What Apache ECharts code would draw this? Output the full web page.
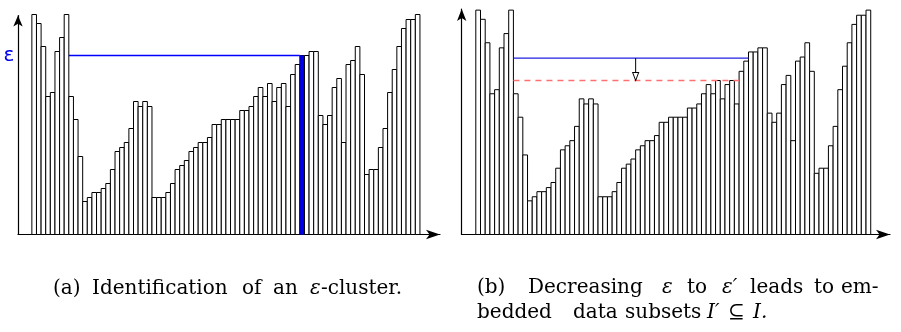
<!DOCTYPE html>
<html>
<head>
<meta charset="utf-8">
<script src="https://cdn.jsdelivr.net/npm/echarts@6/dist/echarts.min.js"></script>
<style>
  html, body { margin: 0; padding: 0; background: #fff; }
  #chart { width: 901px; height: 332px; }
</style>
</head>
<body>
<div id="chart"></div>
<script>
// Reachability values, one per ordered point (84 points)
const reach = [
  220, 211, 188, 138, 142, 183, 197, 220, 138, 115,
  78, 33, 37, 42, 42, 46, 51, 65, 83, 87,
  92, 106, 133, 128, 133, 128, 37, 37, 37, 42,
  51, 65, 69, 74, 83, 87, 92, 92, 97, 110,
  110, 115, 115, 115, 115, 124, 124, 128, 138, 147,
  138, 151, 133, 147, 151, 128, 160, 170, 179, 179,
  183, 183, 119, 110, 119, 147, 156, 92, 170, 174,
  188, 160, 60, 65, 65, 87, 106, 142, 165, 188,
  206, 215, 215, 220
];
// Point that defines the epsilon-cluster in panel (a)
const clusterPoint = 59;
// Threshold levels
const epsA = 179;      // panel (a): epsilon
const epsB = 173;      // panel (b): epsilon
const epsPrime = 151;  // panel (b): epsilon'
// Extent (in point positions) of the threshold lines
const epsSpan = [8.5, 58.5];
const epsPrimeSpan = [8.5, 56.5];
const arrowAt = 34.5;

const barData = reach.map((v, i) => [i + 1, v]);

function makeBars(highlight) {
  return function (params, api) {
    const i = api.value(0), v = api.value(1);
    const p0 = api.coord([i - 0.5, v]);
    const p1 = api.coord([i + 0.5, 0]);
    const hot = highlight && i === clusterPoint;
    return {
      type: 'rect',
      shape: { x: p0[0], y: p0[1], width: p1[0] - p0[0], height: p1[1] - p0[1] },
      style: { fill: hot ? '#0000ee' : '#ffffff', stroke: hot ? '#000080' : '#000000', lineWidth: 1 }
    };
  };
}

function axisX(grid, max, arrowSize) {
  return {
    type: 'value', gridIndex: grid, min: -2.5, max: max,
    axisLine: { show: true, onZero: false, symbol: ['none', 'arrow'], symbolSize: arrowSize,
      lineStyle: { color: '#000', width: 1.2 } },
    axisTick: { show: false }, axisLabel: { show: false }, splitLine: { show: false }
  };
}
function axisY(grid, max, arrowSize) {
  return {
    type: 'value', gridIndex: grid, min: 0, max: max,
    axisLine: { show: true, onZero: false, symbol: ['none', 'arrow'], symbolSize: arrowSize,
      lineStyle: { color: '#000', width: 1.2 } },
    axisTick: { show: false }, axisLabel: { show: false }, splitLine: { show: false }
  };
}

const serif = "'DejaVu Serif', 'Liberation Serif', serif";
function word(x, y, text, italic) {
  return {
    type: 'text', x: x, y: y,
    style: { text: text, fontFamily: serif, fontSize: 20, fill: '#000',
      fontStyle: italic ? 'italic' : 'normal', verticalAlign: 'middle', align: 'left' }
  };
}

const chart = echarts.init(document.getElementById('chart'), null, { renderer: 'canvas' });
chart.setOption({
  animation: false,
  backgroundColor: '#ffffff',
  grid: [
    { left: 18, top: 15.5, width: 422, height: 219 },
    { left: 461.7, top: 9, width: 428.3, height: 225.5 }
  ],
  xAxis: [axisX(0, 88.84, [7, 14]), axisX(1, 88.6, [7, 14])],
  yAxis: [axisY(0, 219, [7, 11]), axisY(1, 221.1, [7, 12])],
  series: [
    { type: 'custom', xAxisIndex: 0, yAxisIndex: 0, renderItem: makeBars(true), data: barData, clip: false, z: 2 },
    { type: 'custom', xAxisIndex: 1, yAxisIndex: 1, renderItem: makeBars(false), data: barData, clip: false, z: 2 },
    {
      type: 'line', xAxisIndex: 0, yAxisIndex: 0, z: 5,
      data: [[epsSpan[0], epsA], [epsSpan[1], epsA]],
      symbol: 'none', silent: true,
      itemStyle: { color: '#0000ff' },
      lineStyle: { color: '#0000ff', width: 1.3, opacity: 1 }
    },
    {
      type: 'line', xAxisIndex: 1, yAxisIndex: 1, z: 3,
      data: [[epsSpan[0], epsB], [epsSpan[1], epsB]],
      symbol: 'none', silent: true,
      itemStyle: { color: '#2020e0' },
      lineStyle: { color: '#2020e0', width: 1.2 }
    },
    {
      type: 'line', xAxisIndex: 1, yAxisIndex: 1, z: 3,
      data: [[epsPrimeSpan[0], epsPrime], [epsPrimeSpan[1], epsPrime]],
      symbol: 'none', silent: true,
      itemStyle: { color: '#ff7070' },
      lineStyle: { color: '#ff7070', width: 1.6, type: [6, 5] }
    },
    {
      type: 'line', xAxisIndex: 1, yAxisIndex: 1, z: 4,
      data: [
        { value: [arrowAt, epsB], symbol: 'none' },
        { value: [arrowAt, epsPrime], symbol: 'triangle', symbolSize: [6, 8], symbolRotate: 180,
          symbolOffset: [0, -4], itemStyle: { color: '#ffffff', borderColor: '#000', borderWidth: 1 } }
      ],
      showSymbol: true, silent: true,
      itemStyle: { color: '#000' },
      lineStyle: { color: '#000', width: 1 }
    }
  ]
});

// Axis label for the epsilon level of panel (a)
const epsY = chart.convertToPixel({ xAxisIndex: 0, yAxisIndex: 0 }, [0, epsA])[1];
chart.setOption({
  graphic: [
    {
      type: 'text', x: 9, y: epsY,
      style: { text: 'ε', fontFamily: "'DejaVu Sans', sans-serif", fontSize: 20, fill: '#0000ee',
        align: 'center', verticalAlign: 'middle' }
    },
    word(53, 289, '(a)'),
    word(92, 289, 'Identification'),
    word(242, 289, 'of'),
    word(273, 289, 'an'),
    word(310, 289, 'ε', true),
    word(321, 289, '-cluster.'),
    word(477, 288, '(b)'),
    word(528, 288, 'Decreasing'),
    word(662, 288, 'ε', true),
    word(687, 288, 'to'),
    word(722, 288, 'ε′', true),
    word(750, 288, 'leads'),
    word(814, 288, 'to'),
    word(841, 288, 'em-'),
    word(477, 313, 'bedded'),
    word(573, 313, 'data'),
    word(625, 313, 'subsets'),
    word(707, 313, 'I′', true),
    word(728, 313, '⊆'),
    word(753, 313, 'I.', true)
  ]
});
</script>
</body>
</html>
